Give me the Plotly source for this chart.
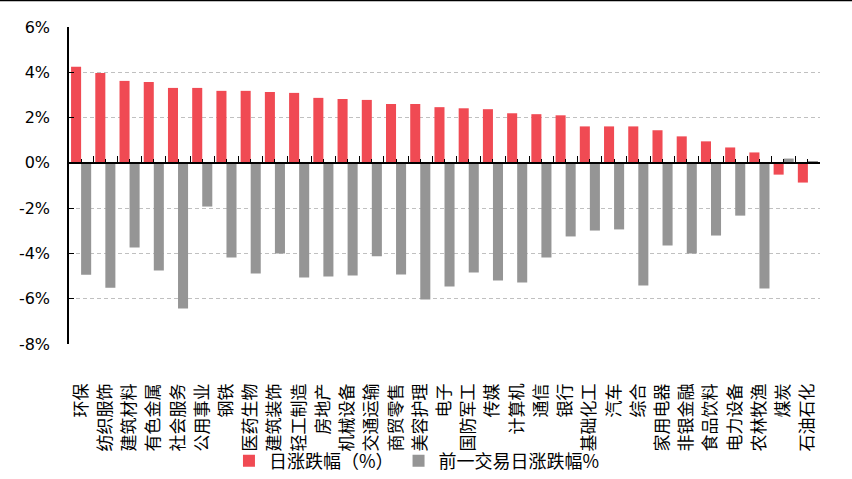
import plotly.graph_objects as go

categories = ["环保", "纺织服饰", "建筑材料", "有色金属", "社会服务", "公用事业", "钢铁", "医药生物",
              "建筑装饰", "轻工制造", "房地产", "机械设备", "交通运输", "商贸零售", "美容护理", "电子",
              "国防军工", "传媒", "计算机", "通信", "银行", "基础化工", "汽车", "综合", "家用电器",
              "非银金融", "食品饮料", "电力设备", "农林牧渔", "煤炭", "石油石化"]
today = [4.24, 3.97, 3.62, 3.57, 3.31, 3.31, 3.18, 3.18, 3.13, 3.09, 2.87, 2.82, 2.78, 2.60, 2.60, 2.46,
         2.41, 2.37, 2.19, 2.15, 2.10, 1.61, 1.61, 1.61, 1.44, 1.17, 0.95, 0.68, 0.46, -0.52, -0.87]
prev = [-4.94, -5.52, -3.74, -4.75, -6.43, -1.93, -4.18, -4.89, -4.00, -5.06, -5.02, -4.97, -4.13, -4.93,
        -6.03, -5.46, -4.84, -5.20, -5.28, -4.18, -3.25, -2.99, -2.94, -5.42, -3.65, -4.00, -3.21, -2.33,
        -5.55, 0.19, 0.05]
y_ticks = [6, 4, 2, 0, -2, -4, -6, -8]
y_labels = [f"{v}%" for v in y_ticks]

RED = "#F04A53"
GRAY = "#959595"
CJK = "Noto Sans CJK SC"

y_min, y_max = -8, 6
zero_pos = (0 - y_min) / (y_max - y_min)

fig = go.Figure()
fig.add_trace(go.Bar(x=categories, y=today, name="日涨跌幅（%）", marker=dict(color=RED, line=dict(width=0))))
fig.add_trace(go.Bar(x=categories, y=prev, name="前一交易日涨跌幅%", marker=dict(color=GRAY, line=dict(width=0))))
# helper invisible traces for the zero-line axes
for ax in ["x2", "x3"]:
    fig.add_trace(go.Scatter(x=categories, y=[0] * len(categories), xaxis=ax, mode="markers",
                             marker=dict(opacity=0, size=1), showlegend=False, hoverinfo="skip"))

n = len(categories)
fig.update_layout(
    width=852, height=479,
    margin=dict(l=69, r=32, t=27, b=135, autoexpand=False),
    paper_bgcolor="white", plot_bgcolor="white",
    barmode="group", bargap=0.17, bargroupgap=0,
    font=dict(family=CJK, size=16, color="black"),
    showlegend=True,
    legend=dict(orientation="h", x=0.213, xanchor="left", y=-0.369, yanchor="middle",
                bgcolor="rgba(0,0,0,0)",
                font=dict(family=CJK, size=18, color="black"), itemwidth=30,
                traceorder="normal"),
    xaxis=dict(type="category", categoryorder="array", categoryarray=categories,
               range=[-0.5, n - 0.5], showline=False, ticks="", showgrid=False, zeroline=False,
               tickangle=-90, tickfont=dict(family=CJK, size=17, color="black"),
               ticklabelstandoff=35, automargin=False),
    xaxis2=dict(type="category", categoryorder="array", categoryarray=categories,
                range=[-0.5, n - 0.5], overlaying="x", anchor="free", position=zero_pos,
                showline=True, linecolor="black", linewidth=1.5, ticks="inside", ticklen=6,
                tickwidth=1.3, tickcolor="black", tickson="boundaries", showticklabels=False,
                showgrid=False, zeroline=False, automargin=False),
    xaxis3=dict(type="category", categoryorder="array", categoryarray=categories,
                range=[-0.5, n - 0.5], overlaying="x", anchor="free", position=zero_pos,
                showline=False, ticks="inside", ticklen=4, tickwidth=1.3, tickcolor="black",
                tickson="labels", showticklabels=False, showgrid=False, zeroline=False,
                automargin=False),
    yaxis=dict(range=[y_min, y_max], tickvals=y_ticks, ticktext=y_labels,
               tickfont=dict(family="DejaVu Sans", size=16, color="black"),
               showline=True, linecolor="black", linewidth=1.5, ticks="inside", ticklen=5,
               tickwidth=1.3, tickcolor="black", showgrid=True, gridcolor="#C0C0C0",
               griddash="4px,3px", gridwidth=1, zeroline=False, ticklabelstandoff=14,
               automargin=False),
    shapes=[dict(type="line", xref="paper", yref="paper", x0=-69 / 751, x1=(852 - 69) / 751,
                 y0=1 + 26.5 / 317, y1=1 + 26.5 / 317, line=dict(color="black", width=1.5))],
)

fig.write_html("out.html", config={"displayModeBar": False},
               post_script="document.body.style.margin='0px';")
